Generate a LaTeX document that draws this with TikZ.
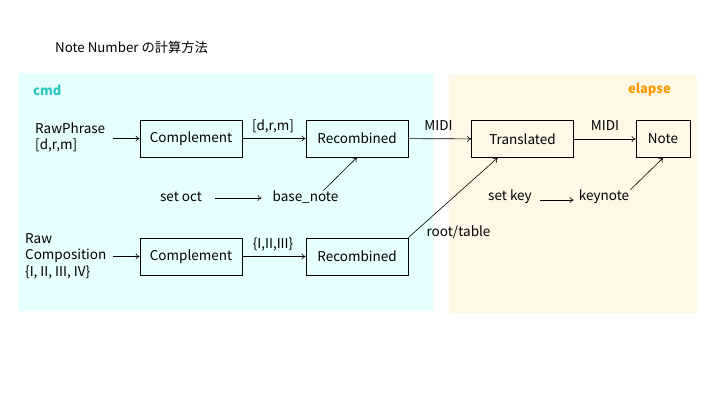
\documentclass[tikz,border=0pt]{standalone}
\usepackage{fontspec}
\setmainfont{Noto Sans CJK JP}
\usetikzlibrary{calc,arrows.meta}
\definecolor{cmdbg}{HTML}{E6FFFF}
\definecolor{elbg}{HTML}{FFF8E6}
\definecolor{cmdfg}{HTML}{2CC7C2}
\definecolor{elfg}{HTML}{FF9900}
\tikzset{
  box/.style={draw, line width=0.8pt, minimum width=102pt, minimum height=37pt, inner sep=0pt, font=\fontsize{13.5}{15}\selectfont},
  lbl/.style={inner sep=0pt, font=\fontsize{13.5}{16.5}\selectfont, align=left},
  conn/.style={-{To[length=4pt,width=6pt]}, line width=0.6pt},
}
\begin{document}
\begin{tikzpicture}[x=1pt,y=-1pt]
\useasboundingbox (0,0) rectangle (720,405);
\fill[cmdbg] (19,73) rectangle (433,311);
\fill[elbg] (449,75) rectangle (697,313);
\node[lbl, anchor=west, font=\fontsize{13.3}{15}\selectfont] (title) at (55,47) {Note Number の計算方法};
\node[lbl, anchor=west, font=\fontsize{13}{15}\bfseries\selectfont, text=cmdfg] (cmd) at (33,90) {cmd};
\node[lbl, anchor=east, font=\fontsize{13}{15}\bfseries\selectfont, text=elfg] (elapse) at (671,90) {elapse};

\node[box] (c1) at (191,138.5) {Complement};
\node[box] (r1) at (357,138.5) {Recombined};
\node[box] (tr) at (522.5,139) {Translated};
\node[box, minimum width=54pt] (nt) at (663,139) {Note};
\node[box] (c2) at (191,256.5) {Complement};
\node[box] (r2) at (357,256.5) {Recombined};

\node[lbl, anchor=west] (rp) at (35,137.5) {RawPhrase\\{}[d,r,m]};
\node[lbl, anchor=west] (rc) at (25,256) {Raw\\Composition\\\{I, II, III, IV\}};
\node[lbl] (l1) at (273,126) {[d,r,m]};
\node[lbl] (l2) at (273,244) {\{I,II,III\}};
\node[lbl] (m1) at (438.5,126) {MIDI};
\node[lbl] (m2) at (605,126) {MIDI};
\node[lbl] (so) at (181,197) {set oct};
\node[lbl] (bn) at (305.5,197) {base\_note};
\node[lbl] (sk) at (510,197) {set key};
\node[lbl] (kn) at (604,197) {keynote};
\node[lbl] (rt) at (458.5,232) {root/table};

\draw[conn] ($(c1.west)+(-27,0)$) -- (c1.west);
\draw[conn] ($(c2.west)+(-27,0)$) -- (c2.west);
\draw[conn] (c1) -- (r1);
\draw[conn] (c2) -- (r2);
\draw[conn] (r1) -- (tr);
\draw[conn] (tr) -- (nt);
\draw[conn] ($(so.east)+(13,1)$) -- ($(bn.west)+(-11,1)$);
\draw[conn] ($(sk.east)+(8,3)$) -- ($(kn.west)+(-5,3)$);
\draw[conn] ($(bn.north)+(18,0)$) -- (r1.south);
\draw[conn] ($(kn.north east)+(1,0)$) -- (nt.south);
\draw[conn] (r2.north east) -- ($(tr.south)+(-25,0)$);
\end{tikzpicture}
\end{document}
